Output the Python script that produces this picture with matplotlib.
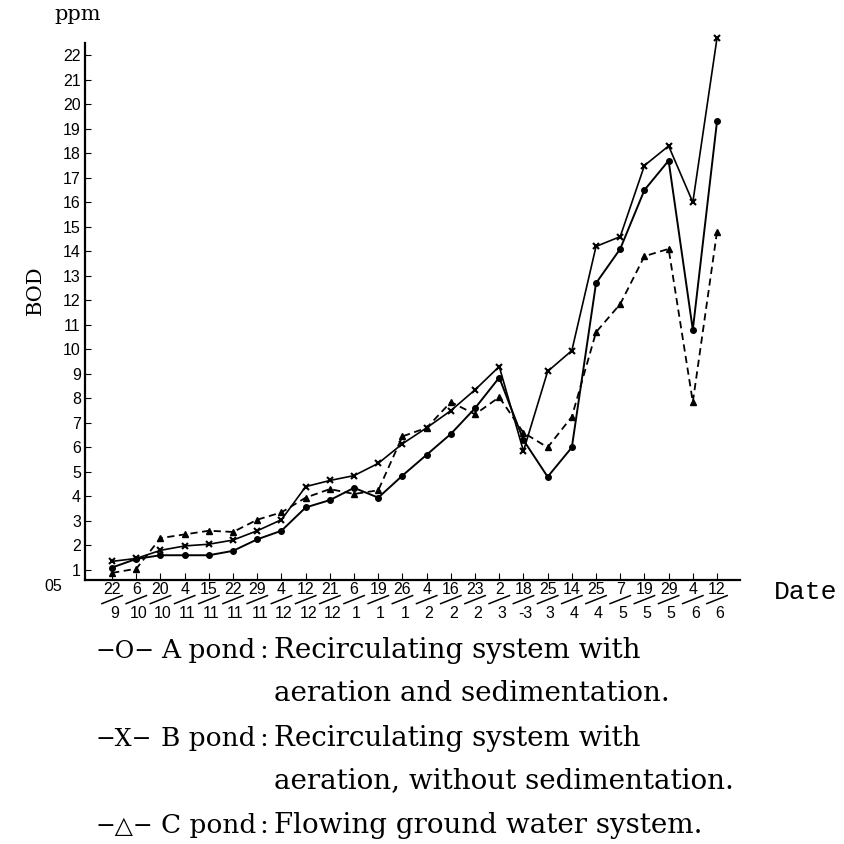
import matplotlib
matplotlib.use('Agg')
import matplotlib.pyplot as plt
from matplotlib.transforms import blended_transform_factory

# sampling dates (day / month)
days = ['22', '6', '20', '4', '15', '22', '29', '4', '12', '21', '6', '19', '26',
        '4', '16', '23', '2', '18', '25', '14', '25', '7', '19', '29', '4', '12']
months = ['9', '10', '10', '11', '11', '11', '11', '12', '12', '12', '1', '1', '1',
          '2', '2', '2', '3', '-3', '3', '4', '4', '5', '5', '5', '6', '6']

# BOD (ppm)
bod_a = [1.1, 1.45, 1.6, 1.6, 1.6, 1.78, 2.25, 2.6, 3.55, 3.85, 4.35, 3.95, 4.85,
         5.7, 6.55, 7.6, 8.85, 6.3, 4.8, 6.0, 12.7, 14.1, 16.5, 17.7, 10.8, 19.3]
bod_b = [1.35, 1.47, 1.8, 1.98, 2.05, 2.22, 2.6, 3.05, 4.4, 4.65, 4.85, 5.35, 6.15,
         6.8, 7.5, 8.35, 9.3, 5.85, 9.1, 9.95, 14.2, 14.6, 17.5, 18.3, 16.0, 22.7]
bod_c = [0.88, 1.05, 2.3, 2.45, 2.6, 2.55, 3.05, 3.35, 3.95, 4.3, 4.1, 4.25, 6.45,
         6.8, 7.85, 7.35, 8.05, 6.6, 6.0, 7.25, 10.7, 11.85, 13.8, 14.1, 7.85, 14.8]

yticks = list(range(1, 23))

narrow = ['Liberation Sans', 'DejaVu Sans']
serif = ['DejaVu Serif', 'DejaVu Sans']

fig = plt.figure(figsize=(8.44, 8.44), dpi=100)
ax = fig.add_axes([85 / 844, 1 - 580 / 844, 655 / 844, 537 / 844])

x = list(range(len(days)))
ax.plot(x, bod_a, '-', color='black', lw=1.4, marker='o', ms=4, clip_on=False)
ax.plot(x, bod_b, '-', color='black', lw=1.2, marker='x', ms=5, mew=1.5, clip_on=False)
ax.plot(x, bod_c, color='black', lw=1.3, ls=(0, (4, 2.5)), marker='^', ms=5, clip_on=False)

ax.set_xlim(-1.12, 25.95)
ax.set_ylim(0.59, 22.5)
ax.spines['top'].set_visible(False)
ax.spines['right'].set_visible(False)
ax.spines['left'].set_linewidth(1.6)
ax.spines['bottom'].set_linewidth(1.6)

ax.set_yticks(yticks)
ax.set_yticklabels([str(v) for v in yticks], family=narrow, fontsize=11.5)
ax.tick_params(axis='y', direction='in', length=4, pad=3)
ax.set_xticks(x)
ax.set_xticklabels([])
ax.tick_params(axis='x', direction='in', length=5)

# stacked day/month labels with a slanted bar
tr = blended_transform_factory(ax.transData, ax.transAxes)
for i in x:
    ax.text(i, -0.017, days[i], transform=tr, ha='center', va='center',
            family=narrow, fontsize=11.5)
    ax.text(i + 0.1, -0.062, months[i], transform=tr, ha='center', va='center',
            family=narrow, fontsize=11.5)
    ax.plot([i - 0.42, i + 0.42], [-0.044, -0.029], transform=tr, color='black',
            lw=1.1, clip_on=False)

ax.text(-0.035, -0.012, '05', transform=ax.transAxes, ha='right', va='center',
        family=narrow, fontsize=11.5)

fig.text(78 / 844, 1 - 14 / 844, 'ppm', family=serif, fontsize=15, ha='center', va='center')
fig.text(35 / 844, 1 - 290 / 844, 'BOD', family=serif, fontsize=15, rotation=90,
         ha='center', va='center')
fig.text(806 / 844, 1 - 592 / 844, 'Date', family=['Liberation Mono'], fontsize=19,
         ha='center', va='center')

# legend block
rows = [
    (658, '\u2212O\u2212', 'A pond', 'Recirculating system with'),
    (701, '', '', 'aeration and sedimentation.'),
    (746, '\u2212X\u2212', 'B pond', 'Recirculating system with'),
    (788, '', '', 'aeration, without sedimentation.'),
    (833, '\u2212\u25b3\u2212', 'C pond', 'Flowing ground water system.'),
]
for yb, sym, name, desc in rows:
    yy = 1 - yb / 844
    if sym:
        fig.text(96 / 844, yy, sym, family=serif, fontsize=17, va='baseline')
        fig.text(161 / 844, yy, name, family=serif, fontsize=19, va='baseline')
        fig.text(259 / 844, yy, ':', family=serif, fontsize=19, va='baseline')
    fig.text(274 / 844, yy, desc, family=serif, fontsize=20, va='baseline')

fig.savefig('out.png', dpi=100)
